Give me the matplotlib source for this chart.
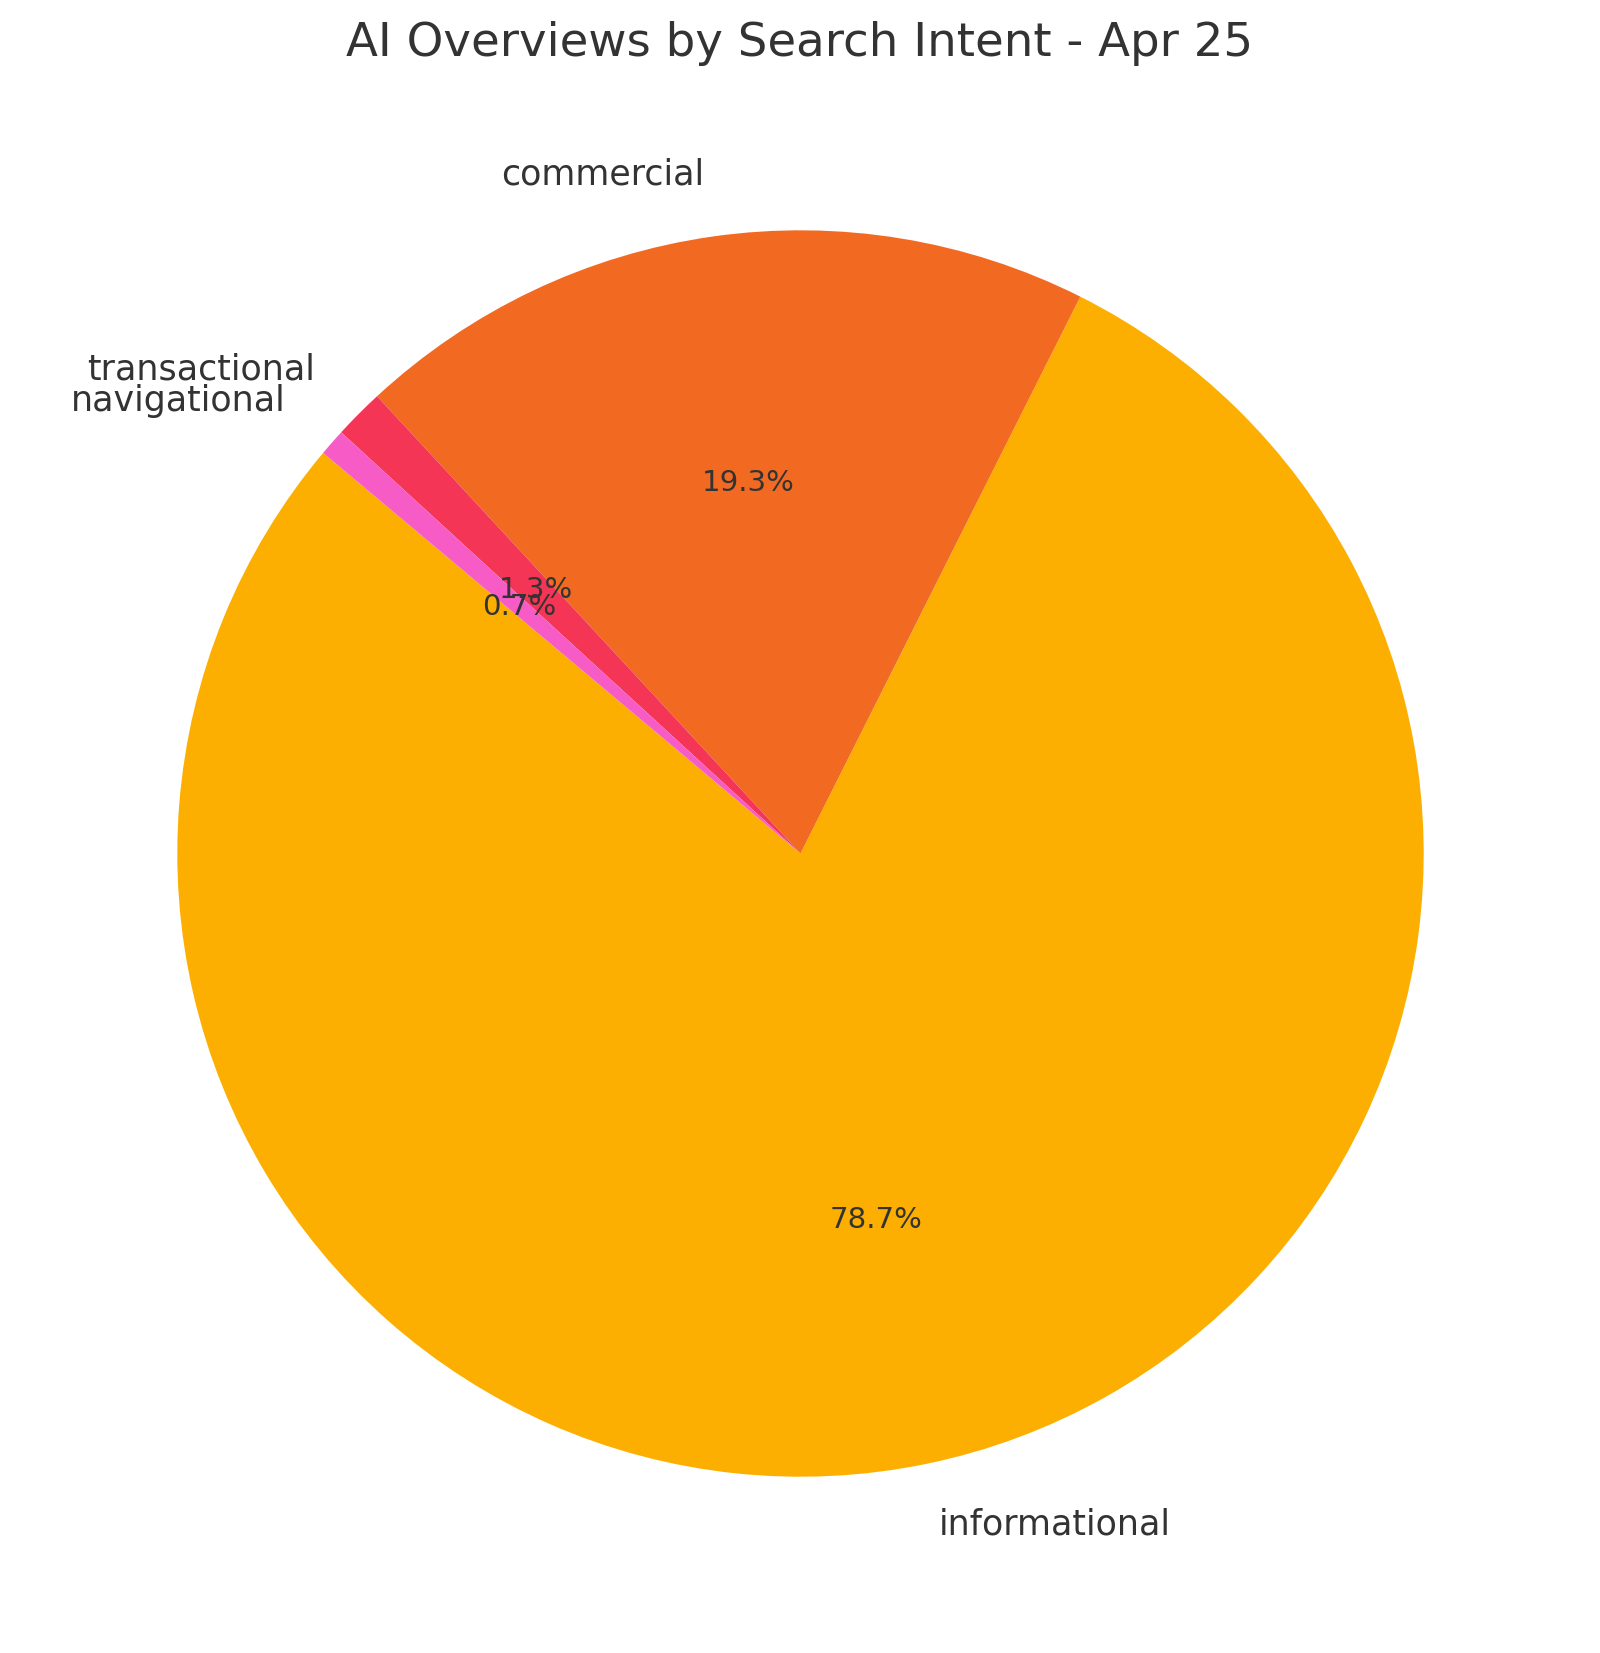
import matplotlib
matplotlib.use("Agg")
import matplotlib.pyplot as plt

labels = ["informational", "commercial", "transactional", "navigational"]
values = [78.7, 19.3, 1.3, 0.7]
colors = ["#FCAF00", "#F26A22", "#F43555", "#F75BC5"]

plt.rcParams['font.family'] = ['DejaVu Sans']
plt.rcParams['text.color'] = '#333333'

fig = plt.figure(figsize=(10, 1653/160), dpi=160)
size = 1558
cx, cy = 800.5, 1653 - 853.5
ax = fig.add_axes([(cx - size/2)/1600, (cy - size/2)/1653, size/1600, size/1653])
wedges, texts, autotexts = ax.pie(values, labels=labels, colors=colors,
                                  startangle=140, autopct='%1.1f%%',
                                  textprops={'fontsize': 15.7, 'color': '#333333'})
for t in autotexts:
    t.set_fontsize(13.2)
ax.set_aspect('equal')
fig.text(0.5, 1 - 44/1653, "AI Overviews by Search Intent - Apr 25",
         ha='center', va='center', fontsize=21, color='#333333')
fig.savefig("out.png", dpi=160, facecolor='white')
